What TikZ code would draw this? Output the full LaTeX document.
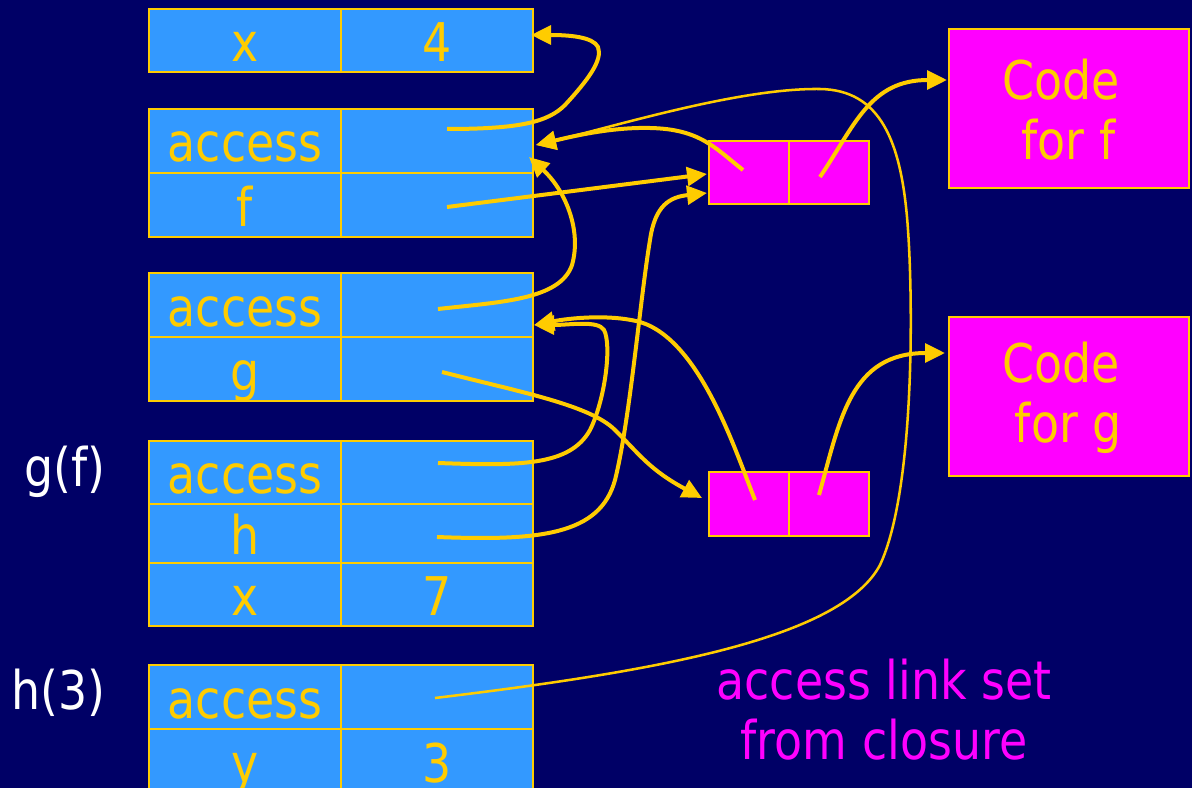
\documentclass[tikz,border=0pt]{standalone}
\usepackage{fontspec}
\setmainfont[FakeStretch=0.86]{DejaVu Sans}
\usetikzlibrary{arrows.meta}
\definecolor{navy}{RGB}{0,0,102}
\definecolor{cellblue}{RGB}{51,153,255}
\definecolor{gold}{RGB}{255,204,0}
\definecolor{pink}{RGB}{255,0,255}
\begin{document}
\begin{tikzpicture}[x=0.75pt,y=-0.75pt,
  every node/.style={font=\fontsize{40pt}{45pt}\selectfont},
  cell/.style={draw=gold, fill=cellblue, line width=1.5pt, minimum width=144pt,
    inner sep=0pt, anchor=north west, text=gold, text height=33pt, text depth=1.5pt},
  clo/.style={draw=gold, fill=pink, line width=1.5pt, minimum width=60pt,
    minimum height=47.5pt, inner sep=0pt, anchor=north west},
  codebox/.style={draw=gold, fill=pink, line width=1.5pt, minimum width=180pt,
    minimum height=119.25pt, inner sep=0pt, anchor=north west},
  codetext/.style={text=gold, align=center},
  ptr/.style={draw=gold, line width=3pt, -{Triangle[length=15pt,width=14pt]}},
  thinptr/.style={ptr, line width=1.9pt},
  side/.style={text=white, anchor=base east},
  note/.style={text=pink, align=center}]
\useasboundingbox (0,0) rectangle (1192,788);
\fill[navy] (0,0) rectangle (1192,788);

% activation records
\node[cell, minimum height=47.25pt] (x1l) at (148,8) {x};
\node[cell, minimum height=47.25pt] (x1v) at (340,8) {4};

\node[cell, minimum height=48pt] (a2l) at (148,108) {access};
\node[cell, minimum height=48pt] (a2v) at (340,108) {};
\node[cell, minimum height=48pt] (f2l) at (148,172) {f};
\node[cell, minimum height=48pt] (f2v) at (340,172) {};

\node[cell, minimum height=48pt] (a3l) at (148,272) {access};
\node[cell, minimum height=48pt] (a3v) at (340,272) {};
\node[cell, minimum height=48pt] (g3l) at (148,336) {g};
\node[cell, minimum height=48pt] (g3v) at (340,336) {};

\node[cell, minimum height=47.25pt] (a4l) at (148,440) {access};
\node[cell, minimum height=47.25pt] (a4v) at (340,440) {};
\node[cell, minimum height=44.25pt] (h4l) at (148,503) {h};
\node[cell, minimum height=44.25pt] (h4v) at (340,503) {};
\node[cell, minimum height=47.25pt] (x4l) at (148,562) {x};
\node[cell, minimum height=47.25pt] (x4v) at (340,562) {7};

\node[cell, minimum height=48pt] (a5l) at (148,664) {access};
\node[cell, minimum height=48pt] (a5v) at (340,664) {};
\node[cell, minimum height=48pt] (y5l) at (148,728) {y};
\node[cell, minimum height=48pt] (y5v) at (340,728) {3};

\node[side] (gf) at (110,486) {g(f)};
\node[side] (h3) at (110,709) {h(3)};

% closures
\node[clo] (cf1) at (708,140) {};
\node[clo] (cf2) at (788,140) {};
\node[clo, minimum height=48pt] (cg1) at (708,471) {};
\node[clo, minimum height=48pt] (cg2) at (788,471) {};

% code blocks
\node[codebox] (codef) at (948,28) {};
\node[codetext] (codeft) at (1061,110) {Code\\\ for f};
\node[codebox] (codeg) at (948,316) {};
\node[codetext] (codegt) at (1061,398) {Code\\\ for g};

\node[note] (lbl) at (884,710) {access link set\\from closure};

% pointer origins and targets
\coordinate (s1) at (447,129);
\coordinate (t1) at (531,35);
\coordinate (sf) at (447,207);
\coordinate (tf) at (707,174);
\coordinate (s3) at (438,309);
\coordinate (t2b) at (529,157);
\coordinate (t2) at (536,145);
\coordinate (sg) at (442,372);
\coordinate (tg) at (702,498);
\coordinate (s4) at (438,463);
\coordinate (t3) at (534,325);
\coordinate (sh) at (437,537);
\coordinate (th) at (707,193);
\coordinate (s5) at (435,698);
\coordinate (cfa) at (743,170);
\coordinate (cfc) at (820,177);
\coordinate (cga) at (755,500);
\coordinate (cgc) at (819,495);
\coordinate (tcf) at (947,80);
\coordinate (tcg) at (945,353);

% pointers
\draw[ptr] (s1) .. controls (520,129) and (548,122) .. (565,105)
  .. controls (588,80) and (603,60) .. (598,47)
  .. controls (593,37) and (570,35) .. (t1);
\draw[ptr] (sf) -- (tf);
\draw[ptr] (cfa) .. controls (715,148) and (700,129) .. (650,128)
  .. controls (610,127) and (570,137) .. (t2);
\draw[thinptr] (s5) .. controls (650,672) and (840,640) .. (880,565)
  .. controls (915,490) and (913,300) .. (908,230)
  .. controls (902,140) and (880,90) .. (820,89)
  .. controls (740,88) and (620,125) .. (t2);
\draw[ptr] (s3) .. controls (500,302) and (560,300) .. (572,265)
  .. controls (582,230) and (565,190) .. (t2b);
\draw[ptr] (sg) .. controls (520,392) and (590,405) .. (615,430)
  .. controls (640,455) and (650,470) .. (tg);
\draw[ptr] (s4) .. controls (520,466) and (570,466) .. (590,430)
  .. controls (605,400) and (612,345) .. (604,330)
  .. controls (598,320) and (570,325) .. (t3);
\draw[ptr] (cga) .. controls (735,450) and (700,340) .. (640,322)
  .. controls (610,314) and (570,318) .. (t3);
\draw[ptr] (sh) .. controls (540,541) and (600,535) .. (615,480)
  .. controls (630,420) and (640,300) .. (650,240)
  .. controls (655,205) and (670,197) .. (th);
\draw[ptr] (cfc) .. controls (855,125) and (870,80) .. (tcf);
\draw[ptr] (cgc) .. controls (840,420) and (850,353) .. (tcg);
\end{tikzpicture}
\end{document}
